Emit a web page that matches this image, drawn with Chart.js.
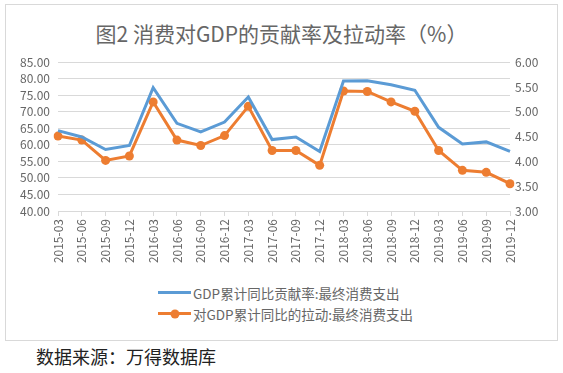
<!DOCTYPE html>
<html>
<head>
<meta charset="utf-8">
<script src="https://cdn.jsdelivr.net/npm/chart.js@4"></script>
<style>
    body { margin: 0; width: 563px; height: 373px; background: #fff; position: relative; overflow: hidden;
           font-family: "Microsoft YaHei", "Noto Sans CJK SC", sans-serif; }
    #caixa { position: absolute; left: 5px; top: 4px; width: 551px; height: 335px; border: 1px solid #d9d9d9; }
    #titulo { position: absolute; left: 0; right: 0; top: 13px; text-align: center; font-size: 21px; color: #666; }
    #area { position: absolute; left: 0; top: 42px; }
    #legenda { position: absolute; left: 152px; top: 277px; font-size: 13.5px; color: #666; }
    .item { height: 21px; display: flex; align-items: center; }
    .marca { position: relative; width: 33px; height: 3px; margin-right: 2px; }
    .ponto { position: absolute; left: 50%; top: 50%; width: 9px; height: 9px; border-radius: 50%; transform: translate(-50%, -50%); }
    #fonte { position: absolute; left: 36px; top: 343px; font-size: 18px; color: #222; }
</style>
</head>
<body>
<div id="caixa">
    <div id="titulo">图2 消费对GDP的贡献率及拉动率（%）</div>
    <canvas id="area" width="551" height="230"></canvas>
    <div id="legenda"></div>
</div>
<div id="fonte">数据来源：万得数据库</div>
<script>
// Trimestres do eixo X
const trimestres = ['2015-03', '2015-06', '2015-09', '2015-12', '2016-03', '2016-06', '2016-09', '2016-12',
    '2017-03', '2017-06', '2017-09', '2017-12', '2018-03', '2018-06', '2018-09', '2018-12',
    '2019-03', '2019-06', '2019-09', '2019-12'];

// Taxa de contribuição (eixo esquerdo, %)
const contribuicao = [64.3, 62.4, 58.6, 59.8, 77.3, 66.5, 63.9, 66.9, 74.5, 61.6, 62.4, 58.0,
    79.3, 79.4, 78.2, 76.5, 65.3, 60.3, 60.9, 58.0];

// Taxa de impulso (eixo direito, pontos percentuais)
const impulso = [4.51, 4.43, 4.02, 4.11, 5.20, 4.43, 4.32, 4.52, 5.11, 4.22, 4.22, 3.92,
    5.42, 5.41, 5.20, 5.01, 4.22, 3.82, 3.78, 3.55];

const nomesSeries = ['GDP累计同比贡献率:最终消费支出', '对GDP累计同比的拉动:最终消费支出'];
const corAzul = '#5b9bd5';
const corLaranja = '#ed7d31';
const corTexto = '#666';
const corGrade = '#d9d9d9';
const fonteEixo = { family: '"Microsoft YaHei", "Noto Sans CJK SC", sans-serif', size: 12 };

const ctx = document.getElementById('area').getContext('2d');

const configuracao = {
    type: 'line',
    data: {
        labels: trimestres,
        datasets: [{
            label: nomesSeries[0],
            data: contribuicao,
            yAxisID: 'y',
            borderColor: corAzul,
            backgroundColor: corAzul,
            borderWidth: 3,
            pointRadius: 0,
            tension: 0
        }, {
            label: nomesSeries[1],
            data: impulso,
            yAxisID: 'y2',
            borderColor: corLaranja,
            backgroundColor: corLaranja,
            borderWidth: 3,
            pointRadius: 4.5,
            pointBorderWidth: 0,
            pointBackgroundColor: corLaranja,
            tension: 0
        }]
    },
    options: {
        responsive: false,
        animation: false,
        devicePixelRatio: 1,
        layout: { padding: { top: 8, left: 0, right: 0, bottom: 0 } },
        plugins: {
            legend: { display: false },
            tooltip: { enabled: false }
        },
        scales: {
            x: {
                offset: false,
                afterFit: (s) => { s.height = 66; },
                grid: { display: true, drawOnChartArea: false, drawTicks: true, tickLength: 5, color: corGrade, offset: false },
                border: { display: true, color: corGrade },
                ticks: { color: corTexto, autoSkip: false, maxRotation: 90, minRotation: 90, padding: 3,
                         font: { family: fonteEixo.family, size: 12 } }
            },
            y: {
                position: 'left',
                min: 40,
                max: 85,
                afterFit: (s) => { s.width = 52; },
                grid: { color: corGrade, drawTicks: false },
                border: { display: false },
                ticks: { stepSize: 5, autoSkip: false, color: corTexto, padding: 8, font: fonteEixo,
                         callback: (v) => v.toFixed(2) }
            },
            y2: {
                position: 'right',
                min: 3,
                max: 6,
                afterFit: (s) => { s.width = 47; },
                grid: { drawOnChartArea: false, drawTicks: false },
                border: { display: false },
                ticks: { stepSize: 0.5, autoSkip: false, color: corTexto, padding: 5, font: fonteEixo,
                         callback: (v) => v.toFixed(2) }
            }
        }
    }
};

const grafico = new Chart(ctx, configuracao);

// Legenda em HTML, uma série por linha
const legenda = document.getElementById('legenda');
grafico.data.datasets.forEach((ds) => {
    const item = document.createElement('div');
    item.className = 'item';
    const marca = document.createElement('span');
    marca.className = 'marca';
    marca.style.background = ds.borderColor;
    if (ds.pointRadius > 0) {
        const ponto = document.createElement('span');
        ponto.className = 'ponto';
        ponto.style.background = ds.pointBackgroundColor;
        marca.appendChild(ponto);
    }
    const texto = document.createElement('span');
    texto.textContent = ds.label;
    item.appendChild(marca);
    item.appendChild(texto);
    legenda.appendChild(item);
});
</script>
</body>
</html>
